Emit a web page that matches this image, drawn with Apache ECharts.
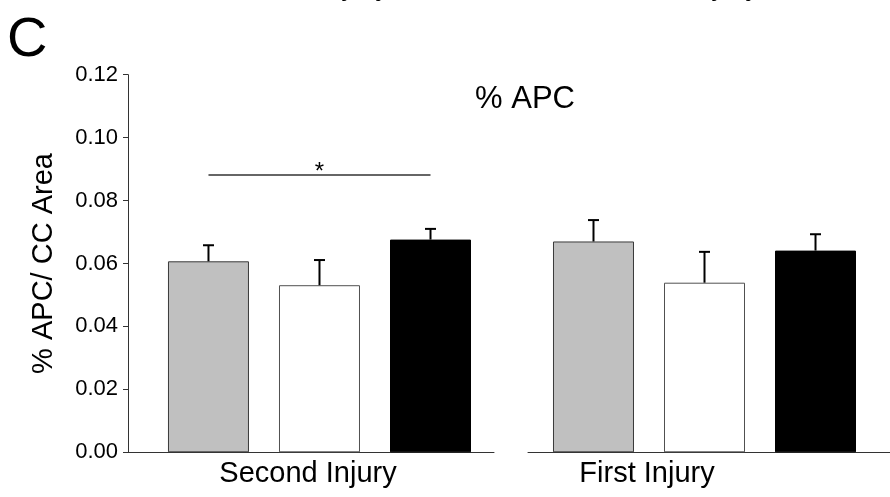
<!DOCTYPE html>
<html>
<head>
<meta charset="utf-8">
<script src="https://cdn.jsdelivr.net/npm/echarts@6/dist/echarts.min.js"></script>
<style>
html,body{margin:0;padding:0;background:#fff;}
#chart{width:890px;height:497px;}
</style>
</head>
<body>
<div id="chart"></div>
<script>
// ---- data ----
const groups = ['Second Injury', 'First Injury'];
const barPositions = [1, 2, 3];
const barColors = ['#c0c0c0', '#ffffff', '#000000'];
const barBorders = ['#3a3a3a', '#505050', '#000000'];
const secondMeans = [0.0607, 0.0531, 0.0676];
const secondErrs = [0.0051, 0.0080, 0.0034];
const firstMeans = [0.0670, 0.0539, 0.0641];
const firstErrs = [0.0068, 0.0098, 0.0052];
const yTicks = [0, 0.02, 0.04, 0.06, 0.08, 0.10, 0.12];
const sigFrom = 1, sigTo = 3, sigLevel = 0.0883, sigLabel = '*';
const chartTitle = '% APC';
const yName = '% APC/ CC Area';
const panelLetter = 'C';

const FONT = 'Liberation Sans, Arial, sans-serif';

function barData(means) {
  return means.map((v, i) => ({
    value: [barPositions[i], v],
    itemStyle: { color: barColors[i], borderColor: barBorders[i], borderWidth: 1 }
  }));
}
function errData(means, errs) {
  return means.map((v, i) => [barPositions[i], v, v + errs[i]]);
}
function renderErr(params, api) {
  const p0 = api.coord([api.value(0), api.value(1)]);
  const p1 = api.coord([api.value(0), api.value(2)]);
  const half = 5.5;
  return {
    type: 'group',
    children: [
      { type: 'line', shape: { x1: p0[0], y1: p0[1], x2: p1[0], y2: p1[1] }, style: { stroke: '#000', lineWidth: 2 } },
      { type: 'line', shape: { x1: p1[0] - half, y1: p1[1], x2: p1[0] + half, y2: p1[1] }, style: { stroke: '#000', lineWidth: 2 } }
    ]
  };
}

const chart = echarts.init(document.getElementById('chart'));
const gridTop = 74.7, gridHeight = 377.6;
const option = {
  animation: false,
  backgroundColor: '#fff',
  grid: [
    { left: 128, top: gridTop, width: 366, height: gridHeight },
    { left: 528, top: gridTop, width: 362, height: gridHeight }
  ],
  xAxis: [
    { type: 'value', gridIndex: 0, min: 0.275, max: 3.572, splitLine: { show: false },
      axisLine: { show: true, lineStyle: { color: '#333', width: 1 } }, axisTick: { show: false }, axisLabel: { show: false } },
    { type: 'value', gridIndex: 1, min: 0.41, max: 3.671, splitLine: { show: false },
      axisLine: { show: true, lineStyle: { color: '#333', width: 1 } }, axisTick: { show: false }, axisLabel: { show: false } }
  ],
  yAxis: [
    { type: 'value', gridIndex: 0, min: yTicks[0], max: yTicks[yTicks.length - 1], interval: 0.02,
      splitLine: { show: false },
      axisLine: { show: true, lineStyle: { color: '#333', width: 1 } },
      axisTick: { show: true, length: 5, inside: false, lineStyle: { color: '#333' } },
      axisLabel: { fontFamily: FONT, fontSize: 22, color: '#000', margin: 10, formatter: v => v.toFixed(2) },
      name: yName, nameLocation: 'middle', nameGap: 70, nameRotate: 90,
      nameTextStyle: { fontFamily: FONT, fontSize: 29, color: '#000' } },
    { type: 'value', gridIndex: 1, min: yTicks[0], max: yTicks[yTicks.length - 1], interval: 0.02,
      show: false, splitLine: { show: false } }
  ],
  series: [
    { type: 'bar', xAxisIndex: 0, yAxisIndex: 0, barWidth: 81, data: barData(secondMeans), z: 2,
      markLine: {
        silent: true, symbol: 'none',
        lineStyle: { color: '#333', width: 1.6, type: 'solid' },
        label: { show: true, position: 'middle', formatter: sigLabel, fontFamily: FONT, fontSize: 24, color: '#000', distance: -10 },
        data: [[{ coord: [sigFrom, sigLevel] }, { coord: [sigTo, sigLevel] }]]
      } },
    { type: 'custom', xAxisIndex: 0, yAxisIndex: 0, renderItem: renderErr, data: errData(secondMeans, secondErrs), z: 3 },
    { type: 'bar', xAxisIndex: 1, yAxisIndex: 1, barWidth: 81, data: barData(firstMeans), z: 2 },
    { type: 'custom', xAxisIndex: 1, yAxisIndex: 1, renderItem: renderErr, data: errData(firstMeans, firstErrs), z: 3 }
  ],
  graphic: [
    { type: 'text', left: 7, top: 13, style: { text: panelLetter, fontFamily: FONT, fontSize: 56, fill: '#000' } },
    { type: 'text', x: 525, y: 99, style: { text: chartTitle, fontFamily: FONT, fontSize: 31, fill: '#000', textAlign: 'center', textVerticalAlign: 'middle' } },
    { type: 'text', x: 308, y: 474, style: { text: groups[0], fontFamily: FONT, fontSize: 29, fill: '#000', textAlign: 'center', textVerticalAlign: 'middle' } },
    { type: 'text', x: 647, y: 474, style: { text: groups[1], fontFamily: FONT, fontSize: 29, fill: '#000', textAlign: 'center', textVerticalAlign: 'middle' } },
    { type: 'text', x: 301, y: -13.5, style: { text: groups[0], fontFamily: FONT, fontSize: 29, fill: '#000', textAlign: 'center', textVerticalAlign: 'middle' } },
    { type: 'text', x: 692, y: -13.5, style: { text: groups[1], fontFamily: FONT, fontSize: 29, fill: '#000', textAlign: 'center', textVerticalAlign: 'middle' } }
  ]
};
chart.setOption(option);
</script>
</body>
</html>
